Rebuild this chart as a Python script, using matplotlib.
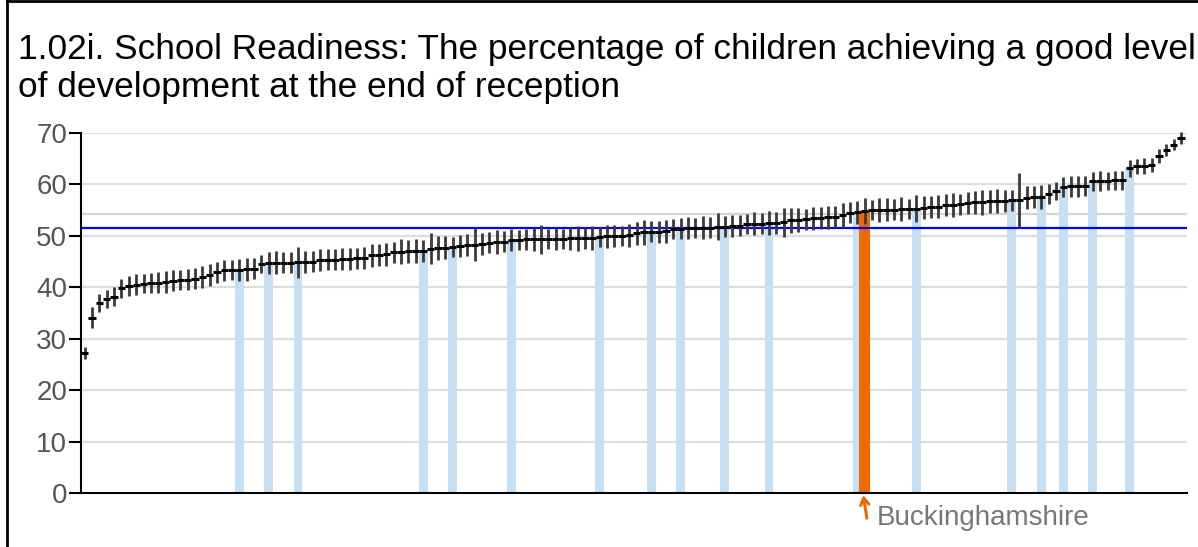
import matplotlib
matplotlib.use("Agg")
import matplotlib.pyplot as plt
from matplotlib.lines import Line2D
import numpy as np

# values for each local authority, sorted low -> high
values = [
    27.2, 34.1, 36.9, 37.7, 38.2, 39.8, 40.3, 40.5, 40.7, 40.8,
    40.9, 41.0, 41.3, 41.4, 41.5, 41.7, 42.0, 42.4, 42.9, 43.3,
    43.4, 43.4, 43.5, 43.6, 44.5, 44.7, 44.8, 44.8, 44.8, 44.9,
    44.9, 45.0, 45.3, 45.4, 45.4, 45.5, 45.5, 45.6, 45.7, 46.2,
    46.3, 46.4, 46.8, 46.9, 47.0, 47.0, 47.1, 47.5, 47.6, 47.7,
    47.8, 48.0, 48.2, 48.3, 48.4, 48.7, 48.8, 48.9, 49.2, 49.2,
    49.3, 49.3, 49.3, 49.4, 49.4, 49.4, 49.5, 49.5, 49.6, 49.6,
    49.8, 49.9, 50.0, 50.0, 50.1, 50.5, 50.7, 50.8, 50.8, 50.9,
    51.3, 51.4, 51.5, 51.5, 51.6, 51.6, 51.8, 51.8, 51.9, 52.0,
    52.3, 52.4, 52.4, 52.5, 52.5, 52.6, 53.0, 53.1, 53.2, 53.4,
    53.5, 53.6, 53.7, 54.0, 54.5, 54.6, 54.8, 55.0, 55.0, 55.1,
    55.1, 55.2, 55.2, 55.3, 55.5, 55.6, 55.7, 56.0, 56.0, 56.1,
    56.4, 56.5, 56.5, 56.7, 56.8, 56.8, 56.9, 57.0, 57.4, 57.5,
    57.6, 58.1, 58.7, 59.5, 59.6, 59.6, 59.7, 60.6, 60.7, 60.7,
    60.8, 60.8, 63.1, 63.5, 63.6, 63.8, 65.5, 66.7, 67.7, 69.0,
]

# half width of the confidence interval for each point
errors = [
    1.2, 2.1, 1.8, 1.7, 1.8, 1.9, 1.9, 2.0, 1.9, 2.0,
    2.0, 2.1, 2.0, 2.0, 2.1, 2.0, 2.1, 2.2, 2.1, 2.0,
    2.0, 2.1, 2.2, 2.0, 1.8, 2.1, 2.2, 2.0, 2.1, 3.0,
    2.1, 2.0, 2.2, 2.1, 2.0, 2.1, 2.2, 2.0, 2.1, 2.2,
    2.1, 2.3, 2.0, 2.4, 2.2, 2.3, 2.1, 3.0, 2.3, 2.2,
    2.0, 2.2, 2.1, 3.2, 2.2, 2.0, 2.3, 2.1, 2.2, 2.0,
    2.1, 2.2, 2.8, 2.0, 2.1, 1.9, 2.2, 2.4, 2.1, 2.3,
    2.0, 2.2, 2.1, 2.0, 2.3, 2.2, 2.4, 2.0, 2.1, 2.2,
    2.0, 2.1, 2.2, 2.0, 2.3, 2.1, 2.6, 2.0, 2.2, 2.1,
    2.0, 2.2, 2.1, 2.3, 2.2, 2.8, 2.5, 2.3, 2.0, 2.2,
    2.1, 2.3, 2.2, 2.4, 2.0, 2.2, 2.5, 2.0, 2.3, 2.2,
    2.1, 2.3, 2.0, 2.6, 2.2, 2.1, 2.3, 2.2, 2.4, 2.0,
    2.1, 2.3, 2.4, 2.2, 2.3, 2.1, 2.0, 5.2, 2.2, 2.1,
    2.3, 2.0, 1.8, 2.0, 2.1, 2.0, 1.9, 1.9, 2.0, 1.8,
    1.8, 1.9, 1.6, 1.5, 1.6, 1.4, 1.3, 1.2, 1.1, 1.1,
]

comparators = [21, 25, 29, 46, 50, 58, 70, 77, 81, 87, 93, 105, 113, 126, 130, 133, 137, 142]
highlight = 106
highlight_name = "Buckinghamshire"
england = 51.6
region = 54.3

yticks = [0, 10, 20, 30, 40, 50, 60, 70]
title = ("1.02i. School Readiness: The percentage of children achieving a good level\n"
         "of development at the end of reception")

plt.rcParams["font.family"] = ["Liberation Sans", "DejaVu Sans"]

W, H = 1198, 547
fig = plt.figure(figsize=(W / 100, H / 100), dpi=100)
ax = fig.add_axes([81 / W, (H - 493) / H, (1187 - 81) / W, (493 - 133) / H])

x = np.arange(len(values))
vals = np.array(values)
errs = np.array(errors)

# grid
for t in yticks[1:]:
    ax.axhline(t, color="#dddddd", lw=1.6, zorder=0)
ax.axhline(region, color="#d4d4d4", lw=1.6, zorder=0)

# comparator bars
ax.bar(comparators, vals[comparators], width=1.2, color="#c6dff3", zorder=1)
ax.bar([highlight], [vals[highlight]], width=1.5, color="#ee6a00", zorder=1.5)

ax.axhline(england, color="#0000ff", lw=1.6, zorder=2)

# confidence intervals and values
ax.vlines(x, vals - errs, vals + errs, color="#3a3a3a", lw=2, zorder=3, clip_on=False)
ax.hlines(vals, x - 0.5, x + 0.5, color="black", lw=2.2, zorder=4, clip_on=False)

ax.set_xlim(-0.5, len(values) - 0.2)
ax.set_ylim(0, 70)
ax.set_yticks(yticks)
ax.set_xticks([])
ax.tick_params(axis="y", length=9, width=1.5, color="black", labelsize=20,
               labelcolor="#555555", pad=1)
for s in ["top", "right"]:
    ax.spines[s].set_visible(False)
ax.spines["left"].set_linewidth(1.5)
ax.spines["bottom"].set_linewidth(1.5)

# label for the highlighted area
ax.annotate("", xy=(highlight - 0.2, -0.4), xytext=(highlight + 0.3, -4.9),
            arrowprops=dict(arrowstyle="->,head_length=0.5,head_width=0.3",
                            color="#ee6a00", lw=2.2, shrinkA=0, shrinkB=0),
            annotation_clip=False)
ax.text(highlight + 1.7, -4.8, highlight_name, fontsize=20, color="#777777",
        va="center", ha="left", clip_on=False)

fig.text(18 / W, 1 - 33 / H, title, fontsize=25.4, va="top", ha="left",
         linespacing=1.2)

# panel frame
fig.add_artist(Line2D([7 / W, 7 / W], [0, 1 - 1 / H], color="black", lw=2))
fig.add_artist(Line2D([7 / W, 1], [1 - 1 / H, 1 - 1 / H], color="black", lw=2))

fig.savefig("out.png", dpi=100)
